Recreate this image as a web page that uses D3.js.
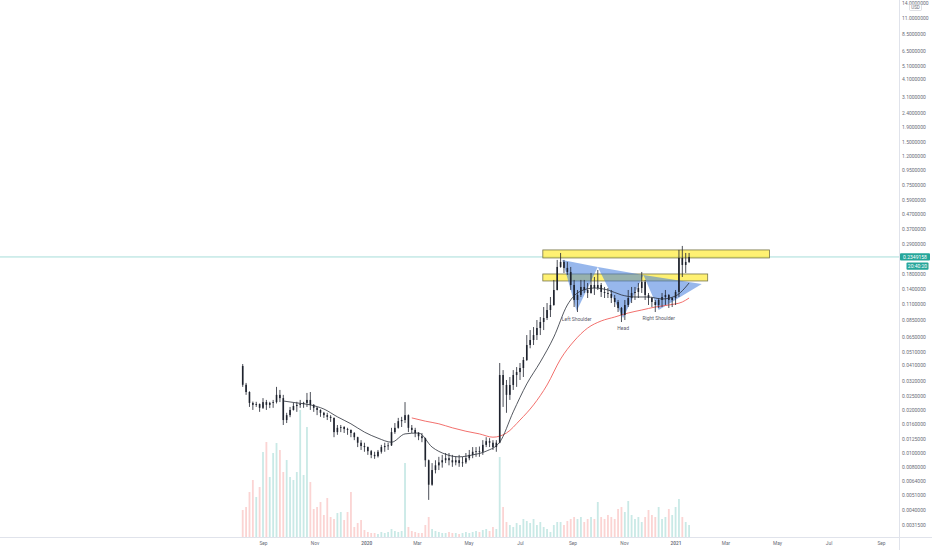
<!DOCTYPE html>
<html>
<head>
<meta charset="utf-8">
<script src="https://cdn.jsdelivr.net/npm/d3@7"></script>
<style>
  html, body { margin: 0; padding: 0; background: #ffffff; }
  svg { display: block; font-family: Roboto, "Noto Sans", sans-serif; }
</style>
</head>
<body>
<svg id="chart" width="932" height="550"></svg>
<script>
// ---- Price history: 4-day candles starting 2019-08-08 ----
const candleStart = "2019-08-08";
const candleStepDays = 4;

const opens = [
  .0406,.0300,.0267,.0224,.0217,.0220,.0207,.0227,.0217,.0224,
  .0227,.0255,.0242,.0170,.0184,.0200,.0213,.0217,.0220,.0224,
  .0235,.0217,.0207,.0200,.0191,.0184,.0179,.0176,.0140,.0150,
  .0152,.0147,.0145,.0138,.0129,.0118,.0112,.0110,.0103,.0097,
  .0095,.0102,.0110,.0112,.0113,.0140,.0150,.0167,.0170,.0184,
  .0150,.0145,.0138,.0131,.0127,.0089,.0060,.0076,.0082,.0086,
  .0089,.0092,.0089,.0086,.0089,.0085,.0086,.0092,.0097,.0102,
  .0103,.0102,.0114,.0121,.0118,.0110,.0118,.0351,.0299,.0255,
  .0299,.0351,.0368,.0393,.0447,.0569,.0617,.0668,.0748,.0824,
  .0879,.1000,.1084,.1380,.2000,.2168,.1968,.1845,.1496,.1175,
  .1274,.1449,.1380,.1315,.1496,.1425,.1496,.1337,.1315,.1294,
  .1213,.1138,.1033,.0923,.1084,.1213,.1315,.1337,.1425,.1571,
  .1274,.1213,.1138,.1084,.1175,.1233,.1274,.1175,.1213,.1337,
  .2312,.2065,.2168
];
const highs = [
  .0419,.0309,.0270,.0229,.0228,.0222,.0242,.0235,.0228,.0235,
  .0290,.0276,.0255,.0191,.0210,.0224,.0228,.0235,.0228,.0263,
  .0267,.0220,.0210,.0202,.0194,.0191,.0184,.0177,.0157,.0157,
  .0154,.0150,.0146,.0140,.0130,.0123,.0118,.0111,.0105,.0102,
  .0105,.0114,.0118,.0118,.0150,.0162,.0176,.0179,.0227,.0186,
  .0157,.0150,.0140,.0138,.0128,.0090,.0085,.0089,.0094,.0097,
  .0100,.0100,.0097,.0095,.0097,.0094,.0100,.0105,.0110,.0110,
  .0111,.0123,.0129,.0127,.0123,.0123,.0426,.0380,.0324,.0340,
  .0380,.0399,.0426,.0469,.0668,.0724,.0760,.0851,.0893,.1049,
  .1119,.1233,.1622,.2239,.2505,.2239,.2168,.2000,.1622,.1380,
  .1622,.1622,.1545,.1815,.1702,.1905,.1545,.1449,.1425,.1380,
  .1274,.1175,.1049,.1175,.1380,.1449,.1449,.1545,.1845,.1622,
  .1315,.1233,.1175,.1213,.1315,.1380,.1290,.1233,.1380,.2630,
  .2805,.2505,.2505
];
const lows = [
  .0290,.0255,.0210,.0200,.0210,.0194,.0203,.0200,.0206,.0207,
  .0222,.0227,.0157,.0162,.0178,.0198,.0194,.0207,.0207,.0210,
  .0200,.0194,.0184,.0179,.0176,.0170,.0165,.0129,.0134,.0140,
  .0138,.0134,.0129,.0123,.0110,.0105,.0102,.0097,.0092,.0091,
  .0093,.0099,.0102,.0105,.0112,.0136,.0148,.0152,.0162,.0140,
  .0138,.0129,.0123,.0119,.0080,.0047,.0059,.0072,.0076,.0079,
  .0085,.0082,.0080,.0082,.0080,.0080,.0084,.0089,.0092,.0094,
  .0094,.0097,.0110,.0110,.0105,.0102,.0117,.0210,.0191,.0235,
  .0276,.0290,.0324,.0340,.0440,.0540,.0569,.0617,.0668,.0724,
  .0851,.0893,.1070,.1370,.1975,.1815,.1758,.1380,.1049,.0968,
  .1233,.1315,.1213,.1300,.1274,.1380,.1233,.1213,.1213,.1119,
  .1049,.0968,.0824,.0851,.1049,.1119,.1175,.1213,.1315,.1175,
  .1084,.1049,.0968,.1033,.1049,.1084,.1033,.1049,.1084,.1233,
  .1702,.1815,.2130
];
const closes = [
  .0300,.0267,.0224,.0217,.0220,.0207,.0227,.0217,.0224,.0227,
  .0255,.0242,.0170,.0184,.0200,.0213,.0217,.0220,.0224,.0235,
  .0217,.0207,.0200,.0191,.0184,.0179,.0176,.0140,.0150,.0152,
  .0147,.0145,.0138,.0129,.0118,.0112,.0110,.0103,.0097,.0095,
  .0102,.0110,.0112,.0113,.0140,.0150,.0167,.0170,.0184,.0150,
  .0145,.0138,.0131,.0127,.0089,.0060,.0076,.0082,.0086,.0089,
  .0092,.0089,.0086,.0089,.0085,.0086,.0092,.0097,.0102,.0103,
  .0102,.0114,.0121,.0118,.0110,.0118,.0351,.0299,.0255,.0299,
  .0351,.0368,.0393,.0447,.0569,.0617,.0668,.0748,.0824,.0879,
  .1000,.1084,.1380,.2000,.2168,.1968,.1845,.1496,.1175,.1274,
  .1449,.1380,.1315,.1496,.1425,.1496,.1337,.1315,.1294,.1213,
  .1138,.1033,.0923,.1084,.1213,.1315,.1337,.1425,.1571,.1274,
  .1213,.1138,.1084,.1175,.1233,.1274,.1175,.1213,.1337,.2312,
  .2065,.2168,.2349
];
// Traded volume per candle (millions)
const volumes = [
  27,30,45,57,40,50,85,95,60,84,
  94,87,65,77,60,57,65,127,62,110,
  55,28,30,35,22,39,20,18,24,25,
  17,25,45,10,14,17,7,5,4,4,
  3,5,4,5,8,6,5,6,74,10,
  6,5,4,4,12,20,8,6,5,4,
  4,5,4,4,3,4,5,4,5,6,
  5,7,8,6,10,8,80,30,15,12,
  10,14,12,18,16,14,18,12,15,10,
  8,5,12,15,15,12,16,18,20,18,
  20,15,18,20,18,35,20,18,22,20,
  18,28,30,25,36,22,18,20,15,20,
  27,22,20,30,18,20,28,22,30,38,
  20,15,12
];

// ---- Moving averages (sampled at candle indices) ----
const ma50Index = [12,16,20,24,28,32,36,40,44,48,52,56,60,64,68,72,76,80,84,88,92,96,100,104,108,112,116,120,124,128,132];
const ma50Values = [.0231,.0224,.0217,.0203,.0179,.0160,.0140,.0127,.0119,.0136,.0138,.0110,.0098,.0094,.0097,.0103,.0119,.0194,.0304,.0433,.0647,.1084,.1358,.1425,.1380,.1274,.1233,.1233,.1194,.1254,.1545];
const ma200Index = [50,54,58,62,66,70,74,78,82,86,90,94,98,102,106,110,114,118,122,126,130,132];
const ma200Values = [.0176,.0167,.0160,.0150,.0142,.0136,.0129,.0138,.0170,.0217,.0299,.0454,.0607,.0748,.0838,.0893,.0953,.1000,.1049,.1084,.1138,.1213];

// ---- Axis ticks ----
const priceTicks = [14, 11, 8.5, 6.5, 5.1, 4.1, 3.1, 2.4, 1.9, 1.5, 1.2, 0.95, 0.75, 0.59, 0.47, 0.37, 0.29, 0.18, 0.14, 0.11, 0.085, 0.065, 0.051, 0.041, 0.032, 0.025, 0.020, 0.016, 0.0125, 0.010, 0.0080, 0.0064, 0.0051, 0.0040, 0.00315];
const timeTicks = ["2019-09-01","2019-11-01","2020-01-01","2020-03-01","2020-05-01","2020-07-01","2020-09-01","2020-11-01","2021-01-01","2021-03-01","2021-05-01","2021-07-01","2021-09-01"];
const lastPrice = 0.2349158;
const lastPriceText = "0.2349158";
const countdownText = "20:40:20";
const currencyText = "USD";

// ---- Drawings: support/resistance zones and inverse head & shoulders ----
const zoneFrom = ["2020-07-28", "2020-07-28"];
const zoneTo = ["2021-04-22", "2021-02-08"];
const zoneTop = [0.2630, 0.1786];
const zoneBottom = [0.2312, 0.1596];
const patternDates = ["2020-08-20","2020-09-06","2020-10-01","2020-10-31","2020-11-24","2020-12-12","2021-02-01"];
const patternPrices = [0.2239, 0.0984, 0.2000, 0.0879, 0.1758, 0.1000, 0.1520];
const patternLabels = ["Left Shoulder", "Head", "Right Shoulder"];
const patternLabelAt = [1, 3, 5];

// ---- Layout ----
const W = 932, H = 550;
const plotRight = 899, plotBottom = 537;
const parse = d3.utcParse("%Y-%m-%d");
const monthFmt = d3.utcFormat("%b");
const yearFmt = d3.utcFormat("%Y");

const x = d3.scaleUtc().domain([parse("2019-09-01"), parse("2021-09-01")]).range([263, 881]);
const y = d3.scaleLog().domain([0.01, 10]).range([453, 24]);
const yVol = d3.scaleLinear().domain([0, 100]).range([plotBottom, plotBottom - 100]);

const start = parse(candleStart);
const candleDate = i => d3.utcDay.offset(start, i * candleStepDays);
const candles = closes.map((c, i) => ({
  date: candleDate(i), o: opens[i], h: highs[i], l: lows[i], c: c, v: volumes[i]
}));

const svg = d3.select("#chart");
svg.append("rect").attr("width", W).attr("height", H).attr("fill", "#ffffff");

svg.append("defs").append("clipPath").attr("id", "plot")
  .append("rect").attr("x", 0).attr("y", 0).attr("width", plotRight).attr("height", plotBottom);

const plot = svg.append("g").attr("clip-path", "url(#plot)");

// Volume histogram
plot.append("g").selectAll("rect").data(candles).join("rect")
  .attr("x", d => x(d.date) - 0.9)
  .attr("width", 1.8)
  .attr("y", d => yVol(d.v))
  .attr("height", d => plotBottom - yVol(d.v))
  .attr("fill", d => d.c >= d.o ? "rgba(38,166,154,0.25)" : "rgba(239,83,80,0.25)");

// Last price line
plot.append("line")
  .attr("x1", 0).attr("x2", plotRight)
  .attr("y1", y(lastPrice)).attr("y2", y(lastPrice))
  .attr("stroke", "#8fd6cf").attr("stroke-width", 0.8);

// Zones
plot.append("g").selectAll("rect").data(zoneFrom).join("rect")
  .attr("x", (d, i) => x(parse(d)))
  .attr("width", (d, i) => x(parse(zoneTo[i])) - x(parse(d)))
  .attr("y", (d, i) => y(zoneTop[i]))
  .attr("height", (d, i) => y(zoneBottom[i]) - y(zoneTop[i]))
  .attr("fill", "rgba(255,235,59,0.72)")
  .attr("stroke", "#77764a").attr("stroke-width", 0.8);

// Head & shoulders triangles
const pts = patternDates.map((d, i) => [x(parse(d)), y(patternPrices[i])]);
const tris = [[0,1,2],[2,3,4],[4,5,6]];
plot.append("g").selectAll("path").data(tris).join("path")
  .attr("d", t => "M" + t.map(k => pts[k].join(",")).join("L") + "Z")
  .attr("fill", "rgba(66,123,220,0.55)");

// Moving averages
const maLine = d3.line().x(d => x(candleDate(d[0]))).y(d => y(d[1])).curve(d3.curveMonotoneX);
plot.append("path")
  .attr("d", maLine(ma200Index.map((k, i) => [k, ma200Values[i]])))
  .attr("fill", "none").attr("stroke", "#f0605c").attr("stroke-width", 0.9);

// Candles
const cg = plot.append("g");
cg.selectAll("line").data(candles).join("line")
  .attr("x1", d => x(d.date)).attr("x2", d => x(d.date))
  .attr("y1", d => y(d.h)).attr("y2", d => y(d.l))
  .attr("stroke", "#1e222d").attr("stroke-width", 0.8);
cg.selectAll("rect").data(candles).join("rect")
  .attr("x", d => x(d.date) - 0.8)
  .attr("width", 1.6)
  .attr("y", d => y(Math.max(d.o, d.c)))
  .attr("height", d => Math.max(0.8, y(Math.min(d.o, d.c)) - y(Math.max(d.o, d.c))))
  .attr("fill", "#1e222d");

plot.append("path")
  .attr("d", maLine(ma50Index.map((k, i) => [k, ma50Values[i]])))
  .attr("fill", "none").attr("stroke", "#2a2e39").attr("stroke-width", 0.8);

// Pattern labels
plot.append("g").selectAll("text").data(patternLabels).join("text")
  .attr("x", (d, i) => pts[patternLabelAt[i]][0])
  .attr("y", (d, i) => pts[patternLabelAt[i]][1] + (i === 1 ? 12 : 10))
  .attr("text-anchor", "middle")
  .attr("font-size", 5)
  .attr("fill", "#5d606b")
  .text(d => d);

// Frame lines
svg.append("line").attr("x1", 0).attr("x2", W).attr("y1", plotBottom + 0.5).attr("y2", plotBottom + 0.5)
  .attr("stroke", "#e0e3eb").attr("stroke-width", 1);
svg.append("line").attr("x1", plotRight + 0.5).attr("x2", plotRight + 0.5).attr("y1", 0).attr("y2", H)
  .attr("stroke", "#e0e3eb").attr("stroke-width", 1);

// Price axis
const yAxis = d3.axisRight(y).tickValues(priceTicks).tickFormat(d3.format(".7f"))
  .tickSizeInner(0).tickSizeOuter(0).tickPadding(3);
const ya = svg.append("g").attr("transform", `translate(${plotRight},0)`).call(yAxis);
ya.select(".domain").remove();
ya.selectAll("text").attr("font-size", 5).attr("fill", "#6a6d78").attr("font-family", "Roboto, sans-serif");

// Currency tag
svg.append("rect").attr("x", 909.5).attr("y", 4.5).attr("width", 12).attr("height", 6)
  .attr("fill", "#ffffff").attr("stroke", "#c7cad1").attr("stroke-width", 0.6).attr("rx", 1);
svg.append("text").attr("x", 915.5).attr("y", 9.3).attr("text-anchor", "middle")
  .attr("font-size", 4.5).attr("fill", "#6a6d78").text(currencyText);

// Last price tag and countdown
const ly = y(lastPrice);
svg.append("rect").attr("x", 900).attr("y", ly - 3.6).attr("width", 30).attr("height", 7.2)
  .attr("fill", "#26a69a").attr("rx", 1);
svg.append("text").attr("x", 915).attr("y", ly + 1.8).attr("text-anchor", "middle")
  .attr("font-size", 5).attr("fill", "#ffffff").text(lastPriceText);
svg.append("rect").attr("x", 906.5).attr("y", ly + 5.5).attr("width", 22).attr("height", 7.2)
  .attr("fill", "#26a69a").attr("rx", 1);
svg.append("text").attr("x", 917.5).attr("y", ly + 10.9).attr("text-anchor", "middle")
  .attr("font-size", 5).attr("fill", "#ffffff").text(countdownText);

// Time axis
const xAxis = d3.axisBottom(x).tickValues(timeTicks.map(parse))
  .tickFormat(d => d.getUTCMonth() === 0 ? yearFmt(d) : monthFmt(d))
  .tickSizeInner(0).tickSizeOuter(0).tickPadding(5);
const xa = svg.append("g").attr("transform", `translate(0,${plotBottom})`).call(xAxis);
xa.select(".domain").remove();
xa.selectAll("text").attr("font-size", 4.8).attr("fill", "#6a6d78").attr("font-family", "Roboto, sans-serif")
  .attr("font-weight", d => d.getUTCMonth() === 0 ? 600 : 400);
</script>
</body>
</html>
